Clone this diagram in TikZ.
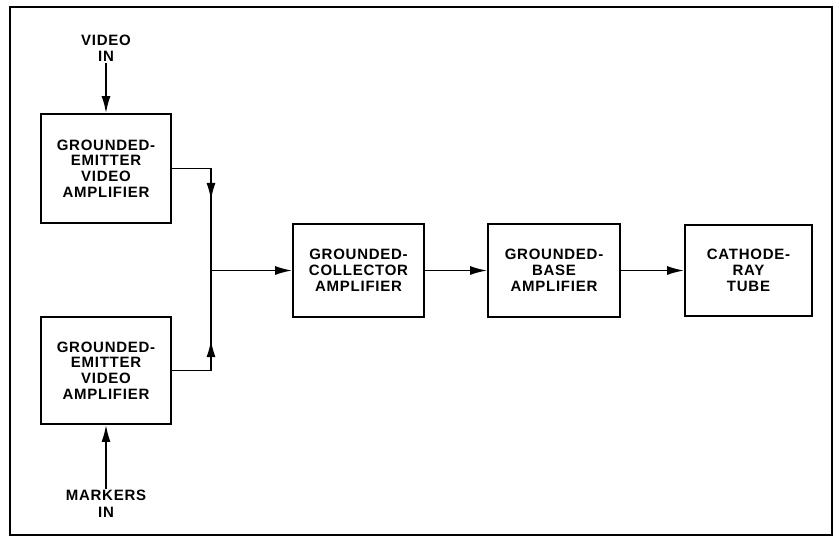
\documentclass[tikz,border=0pt]{standalone}
\usepackage{fontspec}
\setmainfont{Liberation Sans}[LetterSpace=5]
\usetikzlibrary{arrows.meta,decorations.markings}
\begin{document}
\begin{tikzpicture}[x=1pt,y=-1pt,
  blk/.style={draw,line width=1.8pt,minimum width=#1,align=center,inner sep=0pt,
    font=\fontsize{15}{15.8}\selectfont\bfseries},
  lbl/.style={align=center,inner sep=1pt,font=\fontsize{15}{16.5}\selectfont\bfseries},
  tip/.style={-{Latex[length=17pt,width=9pt]}},
  wire/.style={line width=1.7pt},
  midarrow/.style={wire,postaction={decorate},decoration={markings,
    mark=at position 0.5 with {\arrow{Latex[length=17pt,width=9pt]}}}}]
\useasboundingbox (0,0) rectangle (833,544);
\draw[line width=2pt] (10,7) rectangle (832,535);

\node[blk=130pt,minimum height=109pt] (b1) at (106,168.5) {GROUNDED-\\EMITTER\\VIDEO\\AMPLIFIER};
\node[blk=130pt,minimum height=107pt] (b2) at (106,370.5) {GROUNDED-\\EMITTER\\VIDEO\\AMPLIFIER};
\node[blk=131pt,minimum height=93pt] (gc) at (358.5,270.5) {GROUNDED-\\COLLECTOR\\AMPLIFIER};
\node[blk=132pt,minimum height=93pt] (gb) at (554,270.5) {GROUNDED-\\BASE\\AMPLIFIER};
\node[blk=127pt,minimum height=91pt] (crt) at (748.5,270.5) {CATHODE-\\RAY\\TUBE};

\node[lbl] (vin) at (106,48.5) {VIDEO\\IN};
\node[lbl] (min) at (106,504) {MARKERS\\IN};

\coordinate (j) at (211,270.5);

\draw[wire,tip] (vin.south) -- (b1.north);
\draw[wire,tip] (min.north) -- (b2.south);
\draw[midarrow] (b1.east) -| (j);
\draw[midarrow] (b2.east) -| (j);
\draw[wire,tip] (j) -- (gc.west);
\draw[wire,tip] (gc.east) -- (gb.west);
\draw[wire,tip] (gb.east) -- (crt.west);
\end{tikzpicture}
\end{document}
